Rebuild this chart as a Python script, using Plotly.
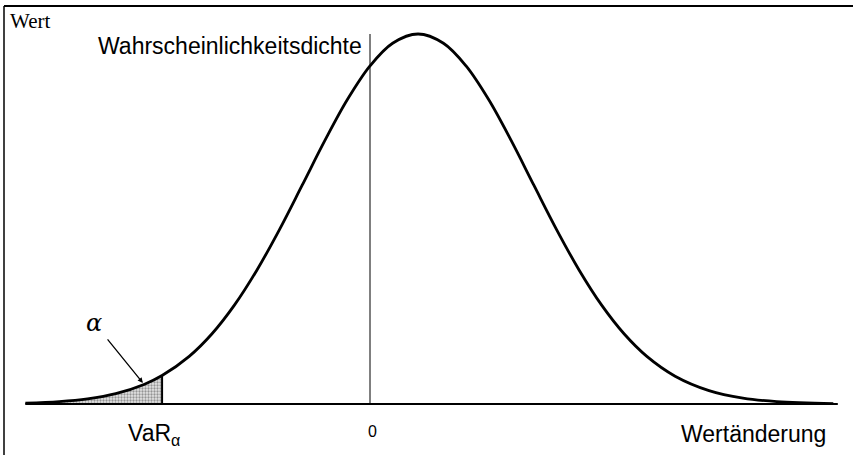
import plotly.graph_objects as go

# curve (x in sigma units, 0 = zero line; y relative to peak)
curve_x = [-3.05, -2.75, -2.5, -2.25, -2.0, -1.84, -1.6, -1.4, -1.2, -1.0, -0.8, -0.6,
           -0.4, -0.2, 0.0, 0.2, 0.425, 0.65, 0.85, 1.05, 1.25, 1.45, 1.65, 1.85,
           2.05, 2.25, 2.45, 2.7, 3.0, 3.3, 3.6, 4.1]
curve_y = [0.0024, 0.0065, 0.0139, 0.0279, 0.0529, 0.0769, 0.1287, 0.1891, 0.2671,
           0.3623, 0.4722, 0.5914, 0.7116, 0.8227, 0.9137, 0.975, 1.0, 0.975, 0.9137,
           0.8227, 0.7116, 0.5914, 0.4722, 0.3623, 0.2671, 0.1891, 0.1287, 0.0752,
           0.0363, 0.016, 0.0065, 0.0012]
var_x = -1.84
tail_x = [x for x in curve_x if x <= var_x]
tail_y = curve_y[:len(tail_x)]

fig = go.Figure()

# shaded alpha tail
fig.add_trace(go.Scatter(
    x=tail_x, y=tail_y, mode='lines', line=dict(width=0, shape='spline'),
    fill='tozeroy', fillcolor='rgba(0,0,0,0)',
    fillpattern=dict(shape='.', fgcolor='#444444', bgcolor='#e4e4e4', size=3, solidity=0.45),
    hoverinfo='skip', showlegend=False
))
fig.add_shape(type='line', x0=var_x, x1=var_x, y0=0, y1=tail_y[-1],
              line=dict(color='black', width=2))

# density curve
fig.add_trace(go.Scatter(
    x=curve_x, y=curve_y, mode='lines',
    line=dict(color='black', width=2.8, shape='spline'),
    showlegend=False
))

# baseline and zero line
fig.add_shape(type='line', x0=curve_x[0], x1=curve_x[-1] + 0.04, y0=0, y1=0,
              line=dict(color='black', width=2))
fig.add_shape(type='line', x0=0, x1=0, y0=0, y1=1.0,
              line=dict(color='black', width=1))

# frame
fig.add_shape(type='line', xref='paper', yref='paper', x0=4/853, x1=1, y0=1-6/455, y1=1-6/455,
              line=dict(color='black', width=2))
fig.add_shape(type='line', xref='paper', yref='paper', x0=4/853, x1=4/853, y0=0, y1=1-6/455,
              line=dict(color='black', width=1.5))

font = dict(family='Liberation Sans, Arial', size=23, color='black')
fig.add_annotation(x=8/853, y=1-7/455, xref='paper', yref='paper', text='Wert',
                   showarrow=False, xanchor='left', yanchor='top',
                   font=dict(family='Liberation Serif, Times New Roman', size=21, color='black'))
fig.add_annotation(x=364/853, y=1-46/455, xref='paper', yref='paper',
                   text='Wahrscheinlichkeitsdichte', showarrow=False,
                   xanchor='right', yanchor='middle', font=font)
fig.add_annotation(x=126/853, y=1-434/455, xref='paper', yref='paper',
                   text='VaR<sub>α</sub>', showarrow=False,
                   xanchor='left', yanchor='middle', font=font)
fig.add_annotation(x=0.02, y=1-431/455, xref='x', yref='paper', text='0',
                   showarrow=False, xanchor='center', yanchor='middle',
                   font=dict(family='Liberation Sans, Arial', size=16, color='black'))
fig.add_annotation(x=828/853, y=1-434/455, xref='paper', yref='paper',
                   text='Wertänderung', showarrow=False,
                   xanchor='right', yanchor='middle', font=font)

# alpha label with arrow into the shaded tail
fig.add_annotation(x=-2.01, y=0.057, ax=-2.44, ay=0.219, xref='x', yref='y', axref='x', ayref='y',
                   text='<i>α</i>', showarrow=True, arrowhead=2, arrowsize=0.8, arrowwidth=1.3,
                   arrowcolor='black', startstandoff=6,
                   font=dict(family='DejaVu Serif', size=24, color='black'))

fig.update_xaxes(range=[-370/113, 483/113], visible=False)
fig.update_yaxes(range=[-51/370, 404/370], visible=False)
fig.update_layout(width=853, height=455, margin=dict(l=0, r=0, t=0, b=0),
                  plot_bgcolor='white', paper_bgcolor='white')

fig.write_html("out.html", config={'displayModeBar': False},
               post_script="document.body.style.margin='0';")
